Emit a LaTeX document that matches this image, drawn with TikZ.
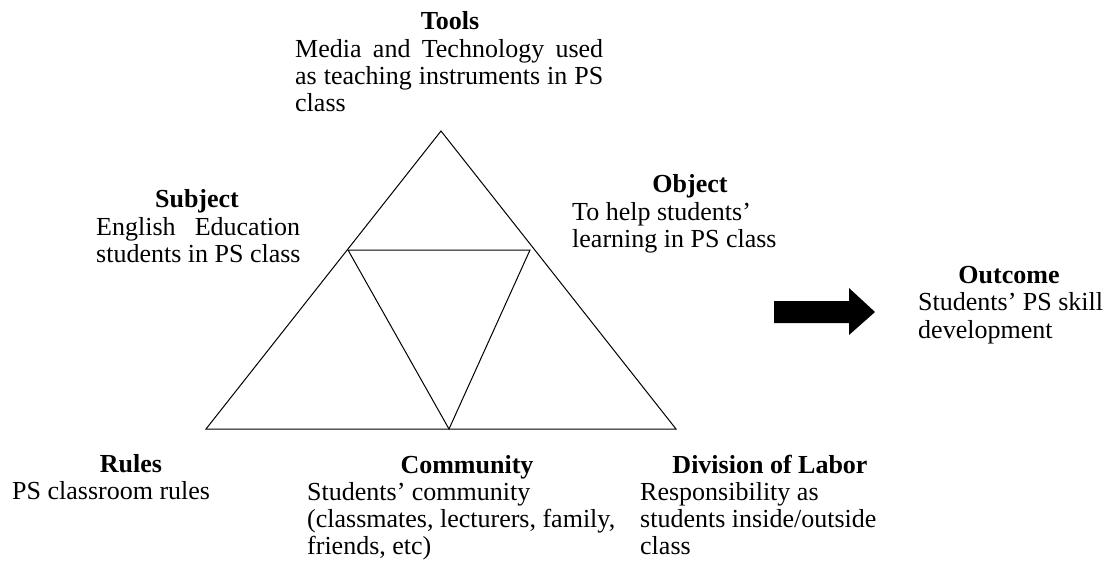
\documentclass[tikz,border=0pt]{standalone}
\usepackage{fontspec}
\setmainfont{Liberation Serif}
\tikzset{
  body/.style={anchor=base west, inner sep=0pt, font=\fontsize{26}{27}\selectfont},
  head/.style={anchor=base, inner sep=0pt, font=\fontsize{26}{27}\selectfont\bfseries},
  edge/.style={line width=1pt, line join=miter},
  bigarrow/.style={fill=black}
}
\newcommand{\jl}[2]{\makebox[#1][s]{#2}}
\begin{document}
\begin{tikzpicture}[x=1pt,y=-1pt]
\useasboundingbox (0,0) rectangle (1112,570);
% triangle vertices
\coordinate (A) at (441,131);
\coordinate (BL) at (206,429);
\coordinate (BR) at (676,429);
\coordinate (ML) at (348,250);
\coordinate (MR) at (530,250);
\coordinate (MB) at (449,429);
\draw[edge] (A) -- (BR) -- (BL) -- cycle;
\draw[edge] (ML) -- (MR) -- (MB) -- cycle;
% arrow
\fill[bigarrow] (774,301) -- (849,301) -- (849,288) -- (875,312) -- (849,335) -- (849,323) -- (774,323) -- cycle;
% Tools
\node[head] (toolsT) at (450,30) {Tools};
\node[body] (tools1) at (295,57) {\jl{308pt}{Media and Technology used}};
\node[body] (tools2) at (295,84) {\jl{308pt}{as teaching instruments in PS}};
\node[body] (tools3) at (295,111) {class};
% Subject
\node[head] (subjT) at (197,207) {Subject};
\node[body] (subj1) at (96,235) {\jl{204pt}{English Education}};
\node[body] (subj2) at (96,262) {students in PS class};
% Object
\node[head] (objT) at (690,192) {Object};
\node[body] (obj1) at (572,220) {To help students’};
\node[body] (obj2) at (572,247) {learning in PS class};
% Outcome
\node[head] (outT) at (1009,283) {Outcome};
\node[body] (out1) at (918,310) {Students’ PS skill};
\node[body] (out2) at (918,338) {development};
% Rules
\node[head] (rulesT) at (131,472) {Rules};
\node[body] (rules1) at (12,499) {PS classroom rules};
% Community
\node[head] (commT) at (467,473) {Community};
\node[body] (comm1) at (307,500) {Students’ community};
\node[body] (comm2) at (307,527) {(classmates, lecturers, family,};
\node[body] (comm3) at (307,554) {friends, etc)};
% Division of Labor
\node[head] (divT) at (770,473) {Division of Labor};
\node[body] (div1) at (640,500) {Responsibility as};
\node[body] (div2) at (640,527) {students inside/outside};
\node[body] (div3) at (640,554) {class};
\end{tikzpicture}
\end{document}
